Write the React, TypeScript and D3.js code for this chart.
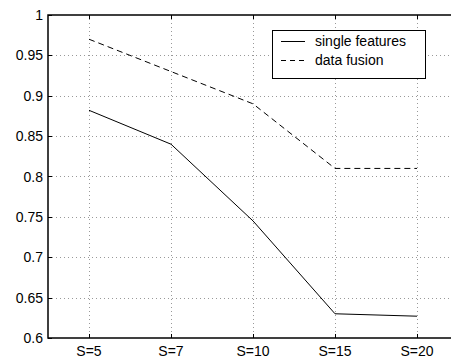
import React, { useEffect, useRef } from 'react';
import * as d3 from 'd3';

const categories = ['S=5', 'S=7', 'S=10', 'S=15', 'S=20'];
const singleFeatures = [0.882, 0.84, 0.745, 0.63, 0.627];
const dataFusion = [0.97, 0.93, 0.89, 0.81, 0.81];
const yTicks = [0.6, 0.65, 0.7, 0.75, 0.8, 0.85, 0.9, 0.95, 1];
const legendLabels = ['single features', 'data fusion'];

const W = 451;
const H = 358;
const margin = { top: 15, right: -7, bottom: 20, left: 48 };

export default function App() {
  const ref = useRef<SVGSVGElement>(null);

  useEffect(() => {
    document.body.style.margin = '0';
    const svg = d3.select(ref.current);
    svg.selectAll('*').remove();

    const x = d3.scalePoint<string>()
      .domain(categories)
      .range([margin.left, W - margin.right])
      .padding(0.5);
    const y = d3.scaleLinear()
      .domain([0.6, 1])
      .range([H - margin.bottom, margin.top]);

    const font = 'Liberation Sans, Arial, sans-serif';
    const left = margin.left, right = W - margin.right;
    const top = margin.top, bottom = H - margin.bottom;

    // white plot background
    svg.append('rect')
      .attr('x', left).attr('y', top)
      .attr('width', right - left).attr('height', bottom - top)
      .attr('fill', '#fff');

    // grid
    const grid = svg.append('g')
      .attr('stroke', '#999')
      .attr('stroke-width', 1)
      .attr('stroke-dasharray', '1,3');
    grid.selectAll('.gy')
      .data(yTicks.slice(1, -1))
      .enter().append('line')
      .attr('x1', left).attr('x2', right)
      .attr('y1', d => Math.round(y(d)) + 0.5)
      .attr('y2', d => Math.round(y(d)) + 0.5);
    grid.selectAll('.gx')
      .data(categories)
      .enter().append('line')
      .attr('y1', top).attr('y2', bottom)
      .attr('x1', d => Math.round(x(d)!) + 0.5)
      .attr('x2', d => Math.round(x(d)!) + 0.5);

    // series lines
    const line = d3.line<number>()
      .x((_, i) => x(categories[i])!)
      .y(d => y(d));
    svg.append('path')
      .datum(singleFeatures)
      .attr('d', line)
      .attr('fill', 'none')
      .attr('stroke', '#000')
      .attr('stroke-width', 1);
    svg.append('path')
      .datum(dataFusion)
      .attr('d', line)
      .attr('fill', 'none')
      .attr('stroke', '#000')
      .attr('stroke-width', 1)
      .attr('stroke-dasharray', '6,4');

    // frame
    svg.append('rect')
      .attr('x', left).attr('y', top)
      .attr('width', right - left).attr('height', bottom - top)
      .attr('fill', 'none')
      .attr('stroke', '#000')
      .attr('stroke-width', 1.5);

    // ticks inward
    const ticks = svg.append('g').attr('stroke', '#000').attr('stroke-width', 1);
    categories.forEach(c => {
      const px = Math.round(x(c)!) + 0.5;
      ticks.append('line').attr('x1', px).attr('x2', px).attr('y1', bottom).attr('y2', bottom - 4);
      ticks.append('line').attr('x1', px).attr('x2', px).attr('y1', top).attr('y2', top + 4);
    });
    yTicks.forEach(t => {
      const py = Math.round(y(t)) + 0.5;
      ticks.append('line').attr('x1', left).attr('x2', left + 4).attr('y1', py).attr('y2', py);
    });

    // tick labels
    svg.append('g')
      .selectAll('text')
      .data(yTicks)
      .enter().append('text')
      .attr('x', left - 5)
      .attr('y', d => y(d) + 5)
      .attr('text-anchor', 'end')
      .attr('font-family', font)
      .attr('font-size', 14)
      .text(d => d3.format('~g')(d));
    svg.append('g')
      .selectAll('text')
      .data(categories)
      .enter().append('text')
      .attr('x', d => x(d)!)
      .attr('y', bottom + 18)
      .attr('text-anchor', 'middle')
      .attr('font-family', font)
      .attr('font-size', 14)
      .text(d => d);

    // legend
    const lg = svg.append('g');
    lg.append('rect')
      .attr('x', 272.5).attr('y', 30.5)
      .attr('width', 153).attr('height', 48)
      .attr('fill', '#fff')
      .attr('stroke', '#000')
      .attr('stroke-width', 1);
    legendLabels.forEach((label, i) => {
      const ly = 41 + i * 19;
      lg.append('line')
        .attr('x1', 281).attr('x2', 305)
        .attr('y1', ly + 0.5).attr('y2', ly + 0.5)
        .attr('stroke', '#000')
        .attr('stroke-dasharray', i === 1 ? '5,4' : null);
      lg.append('text')
        .attr('x', 315)
        .attr('y', ly + 5)
        .attr('font-family', font)
        .attr('font-size', 14)
        .text(label);
    });
  }, []);

  return <svg ref={ref} width={W} height={H} style={{ display: 'block' }} />;
}
